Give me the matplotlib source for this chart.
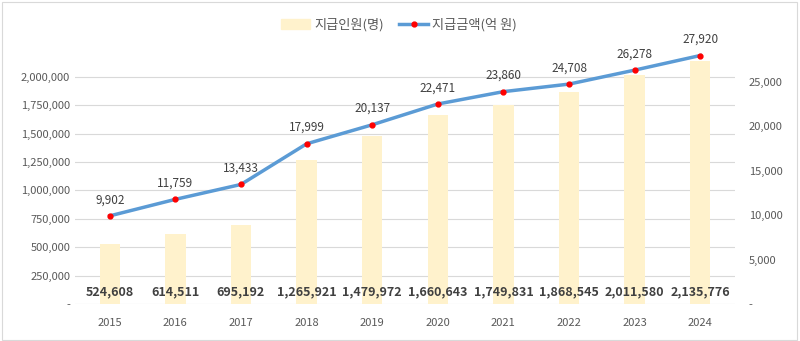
import numpy as np
import matplotlib.pyplot as plt
from matplotlib.patches import Rectangle
from matplotlib.lines import Line2D
from matplotlib.ticker import FuncFormatter

plt.rcParams['font.family'] = ['Noto Sans CJK KR', 'DejaVu Sans']

years = ['2015', '2016', '2017', '2018', '2019', '2020', '2021', '2022', '2023', '2024']
people = [524608, 614511, 695192, 1265921, 1479972, 1660643, 1749831, 1868545, 2011580, 2135776]
amount = [9902, 11759, 13433, 17999, 20137, 22471, 23860, 24708, 26278, 27920]

gray = '#595959'
bar_color = '#FFF2CC'
line_color = '#5B9BD5'

fig = plt.figure(figsize=(8, 3.41), dpi=100)
ax = fig.add_axes([75 / 800, 37 / 341, 660 / 800, 264 / 341])
ax2 = ax.twinx()

x = np.arange(len(years))
ax.bar(x, people, width=0.31, color=bar_color, zorder=2)
ax.set_ylim(0, 2323944)
ax.set_xlim(-0.53, len(years) - 0.47)
ax.set_yticks(np.arange(0, 2000001, 250000))
ax.yaxis.set_major_formatter(FuncFormatter(lambda v, p: '-' if v == 0 else f'{int(v):,}'))
ax.grid(axis='y', color='#D9D9D9', linewidth=0.8, zorder=0)
ax.set_axisbelow(True)
ax.set_xticks(x)
ax.set_xticklabels(years)
ax.tick_params(axis='both', length=0, labelsize=8, colors=gray)
ax.tick_params(axis='x', pad=10)
for s in ax.spines.values():
    s.set_visible(False)

# bar values along the bottom
for xi, v in zip(x, people):
    ax.text(xi, 105000, f'{v:,}', ha='center', va='center', fontsize=9,
            fontweight='bold', color='#404040', zorder=5)

ax2.plot(x, amount, color=line_color, linewidth=2.5, zorder=3)
ax2.plot(x, amount, 'o', color='red', markersize=3.5, zorder=4)
ax2.set_ylim(0, 29663)
ax2.set_yticks(np.arange(0, 25001, 5000))
ax2.yaxis.set_major_formatter(FuncFormatter(lambda v, p: '-' if v == 0 else f'{int(v):,}'))
ax2.tick_params(axis='y', length=0, labelsize=8, colors=gray, pad=10)
for s in ax2.spines.values():
    s.set_visible(False)
for xi, v in zip(x, amount):
    ax2.annotate(f'{v:,}', (xi, v), xytext=(0, 7), textcoords='offset points',
                 ha='center', va='bottom', fontsize=8.5, color='#404040')

handles = [Rectangle((0, 0), 1, 1, color=bar_color),
           Line2D([0], [0], color=line_color, linewidth=2.5, marker='o',
                  markerfacecolor='red', markeredgecolor='red', markersize=3.5)]
fig.legend(handles, ['지급인원(명)', '지급금액(억 원)'], loc='center',
           bbox_to_anchor=(399 / 800, 1 - 25 / 341), ncol=2, frameon=False,
           fontsize=9.5, labelcolor=gray, handlelength=2.2, handletextpad=0.3,
           columnspacing=1.2)

fig.add_artist(Rectangle((0.002, 0.004), 0.994, 0.99, transform=fig.transFigure,
                         fill=False, edgecolor='#D9D9D9', linewidth=0.8))

fig.savefig('out.png', dpi=100)
